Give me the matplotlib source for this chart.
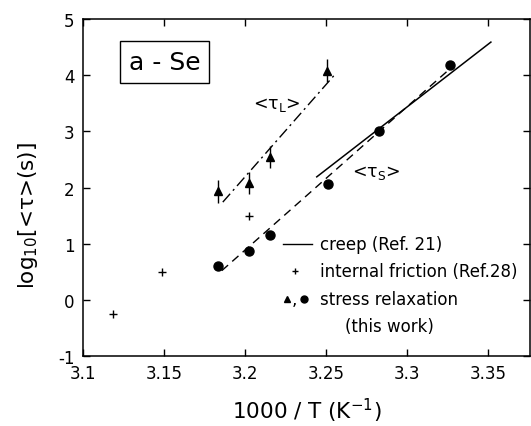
import numpy as np
import matplotlib
matplotlib.use("Agg")
import matplotlib.pyplot as plt

# stress relaxation, long time constant <tau_L> (triangles)
x_tri = [3.1833, 3.2025, 3.2154, 3.2506]
y_tri = [1.93, 2.08, 2.54, 4.08]
err_tri = [0.2, 0.2, 0.2, 0.2]

# stress relaxation, short time constant <tau_S> (circles)
x_circ = [3.1833, 3.2025, 3.2154, 3.2512, 3.2827, 3.3265]
y_circ = [0.61, 0.87, 1.15, 2.07, 3.00, 4.19]

# internal friction (Ref.28)
x_if = [3.1185, 3.149, 3.2025]
y_if = [-0.26, 0.50, 1.49]

# fit lines
x_fitS = [3.1858, 3.3284]
y_fitS = [0.52, 4.16]
x_fitL = [3.1864, 3.2549]
y_fitL = [1.74, 3.99]
x_creep = [3.2444, 3.3519]
y_creep = [2.19, 4.59]

plt.rcParams['font.family'] = ['DejaVu Sans']
plt.rcParams['axes.unicode_minus'] = False

fig = plt.figure(figsize=(5.31, 4.27), dpi=100)
ax = fig.add_axes([0.156, 0.164, 0.842, 0.789])

ax.plot(x_fitS, y_fitS, color='k', lw=1.0, ls=(0, (6, 4)))
ax.plot(x_fitL, y_fitL, color='k', lw=1.0, ls=(0, (8, 3, 1.5, 3)))
ax.plot(x_creep, y_creep, color='k', lw=1.1)

ax.errorbar(x_tri, y_tri, yerr=err_tri, fmt='^', color='k', ms=6,
            elinewidth=1.0, capsize=0)
ax.plot(x_circ, y_circ, 'o', color='k', ms=6.5)
ax.plot(x_if, y_if, '+', color='k', ms=6, mew=1.0)

ax.set_xlim(3.1, 3.376)
ax.set_ylim(-1, 5)
ax.set_xticks([3.1, 3.15, 3.2, 3.25, 3.3, 3.35])
ax.set_xticklabels(['3.1', '3.15', '3.2', '3.25', '3.3', '3.35'])
ax.set_yticks([-1, 0, 1, 2, 3, 4, 5])
ax.tick_params(direction='in', top=True, right=True, labelsize=12,
               length=5, width=1.0, pad=6)
for s in ax.spines.values():
    s.set_linewidth(1.1)

ax.set_xlabel('1000 / T (K$^{-1}$)', fontsize=15.5, labelpad=10)
ax.set_ylabel('log$_{10}$[<τ>(s)]', fontsize=15.5)
ax.yaxis.set_label_coords(-0.095, 0.42)

# sample label box
ax.text(0.183, 0.872, 'a - Se', transform=ax.transAxes, fontsize=18,
        ha='center', va='center',
        bbox=dict(boxstyle='square,pad=0.35', fc='white', ec='k', lw=1.0))

ax.text(0.434, 0.748, '<τ$_\\mathrm{L}$>', transform=ax.transAxes, fontsize=12.5,
        ha='center', va='center')
ax.text(0.657, 0.546, '<τ$_\\mathrm{S}$>', transform=ax.transAxes, fontsize=12.5,
        ha='center', va='center')

# hand-built legend
ax.plot([0.447, 0.512], [0.333, 0.333], color='k', lw=1.0,
        transform=ax.transAxes)
ax.text(0.53, 0.333, 'creep (Ref. 21)', transform=ax.transAxes,
        fontsize=12, va='center')
ax.plot([0.474], [0.252], '+', color='k', ms=5, mew=1.0,
        transform=ax.transAxes)
ax.text(0.53, 0.252, 'internal friction (Ref.28)', transform=ax.transAxes,
        fontsize=12, va='center')
ax.plot([0.457], [0.17], '^', color='k', ms=4, transform=ax.transAxes)
ax.text(0.468, 0.168, ',', transform=ax.transAxes, fontsize=12, va='center')
ax.plot([0.495], [0.17], 'o', color='k', ms=5, transform=ax.transAxes)
ax.text(0.53, 0.17, 'stress relaxation', transform=ax.transAxes,
        fontsize=12, va='center')
ax.text(0.586, 0.088, '(this work)', transform=ax.transAxes,
        fontsize=12, va='center')

fig.savefig('out.png', dpi=100)
